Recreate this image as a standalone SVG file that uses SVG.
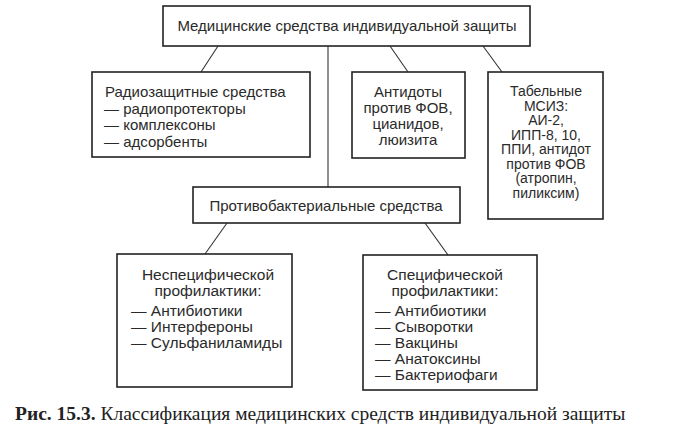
<svg xmlns="http://www.w3.org/2000/svg" width="678" height="442" viewBox="0 0 678 442">
<style>
.box{fill:#fff;stroke:#222;stroke-width:1.6}
.ln{stroke:#333;stroke-width:1.1;fill:none}
text{font-family:"Liberation Sans",Arial,sans-serif;font-size:15px;fill:#2a2a2a}
.c{text-anchor:middle}
.s{font-size:14px}
.b{font-size:15.5px}
.cap{font-family:"Liberation Serif","Times New Roman",serif;font-size:19.5px;fill:#222}
</style>
<rect width="678" height="442" fill="#fff"/>
<g id="connectors">
<line class="ln" x1="218" y1="46" x2="201" y2="72"/>
<line class="ln" x1="328" y1="46" x2="328" y2="187"/>
<line class="ln" x1="390" y1="46" x2="408" y2="72"/>
<line class="ln" x1="483" y1="46" x2="502" y2="72"/>
<line class="ln" x1="227" y1="223" x2="205" y2="254"/>
<line class="ln" x1="425" y1="223" x2="448" y2="255"/>
</g>
<g id="root">
<rect class="box" x="163" y="6" width="367" height="40"/>
<text class="c" x="347" y="30.5">Медицинские средства индивидуальной защиты</text>
</g>
<g id="radio">
<rect class="box" x="92" y="72" width="218" height="85"/>
<text x="105" y="97">Радиозащитные средства</text>
<text x="104" y="113.5">— радиопротекторы</text>
<text x="104" y="130">— комплексоны</text>
<text x="104" y="146.5">— адсорбенты</text>
</g>
<g id="antidotes">
<rect class="box" x="352" y="72" width="113" height="86"/>
<text class="c" x="408" y="97">Антидоты</text>
<text class="c" x="408" y="113">против ФОВ,</text>
<text class="c" x="408" y="128.5">цианидов,</text>
<text class="c" x="408" y="144.5">люизита</text>
</g>
<g id="tabel">
<rect class="box" x="488" y="72" width="115" height="147"/>
<text class="c s" x="546" y="96">Табельные</text>
<text class="c s" x="546" y="110.5">МСИЗ:</text>
<text class="c s" x="546" y="125">АИ-2,</text>
<text class="c s" x="546" y="139.5">ИПП-8, 10,</text>
<text class="c s" x="546" y="154">ППИ, антидот</text>
<text class="c s" x="546" y="168.5">против ФОВ</text>
<text class="c s" x="546" y="183">(атропин,</text>
<text class="c s" x="546" y="197.5">пиликсим)</text>
</g>
<g id="antibact">
<rect class="box" x="193" y="187" width="267" height="36"/>
<text class="c" x="326" y="210.5">Противобактериальные средства</text>
</g>
<g id="nonspecific">
<rect class="box" x="117" y="254" width="175" height="133"/>
<text class="c b" x="208" y="279.5">Неспецифической</text>
<text class="c b" x="208" y="295.5">профилактики:</text>
<text class="b" x="131" y="315.5">— Антибиотики</text>
<text class="b" x="131" y="331.5">— Интерфероны</text>
<text class="b" x="131" y="347.5">— Сульфаниламиды</text>
</g>
<g id="specific">
<rect class="box" x="363" y="255" width="174" height="135"/>
<text class="c b" x="445" y="279.5">Специфической</text>
<text class="c b" x="445" y="295.5">профилактики:</text>
<text class="b" x="375" y="315.5">— Антибиотики</text>
<text class="b" x="375" y="331.5">— Сыворотки</text>
<text class="b" x="375" y="347.5">— Вакцины</text>
<text class="b" x="375" y="363.5">— Анатоксины</text>
<text class="b" x="375" y="380">— Бактериофаги</text>
</g>
<g id="caption">
<text class="cap" x="15" y="420"><tspan font-weight="bold">Рис. 15.3.</tspan> Классификация медицинских средств индивидуальной защиты</text>
</g>
</svg>
